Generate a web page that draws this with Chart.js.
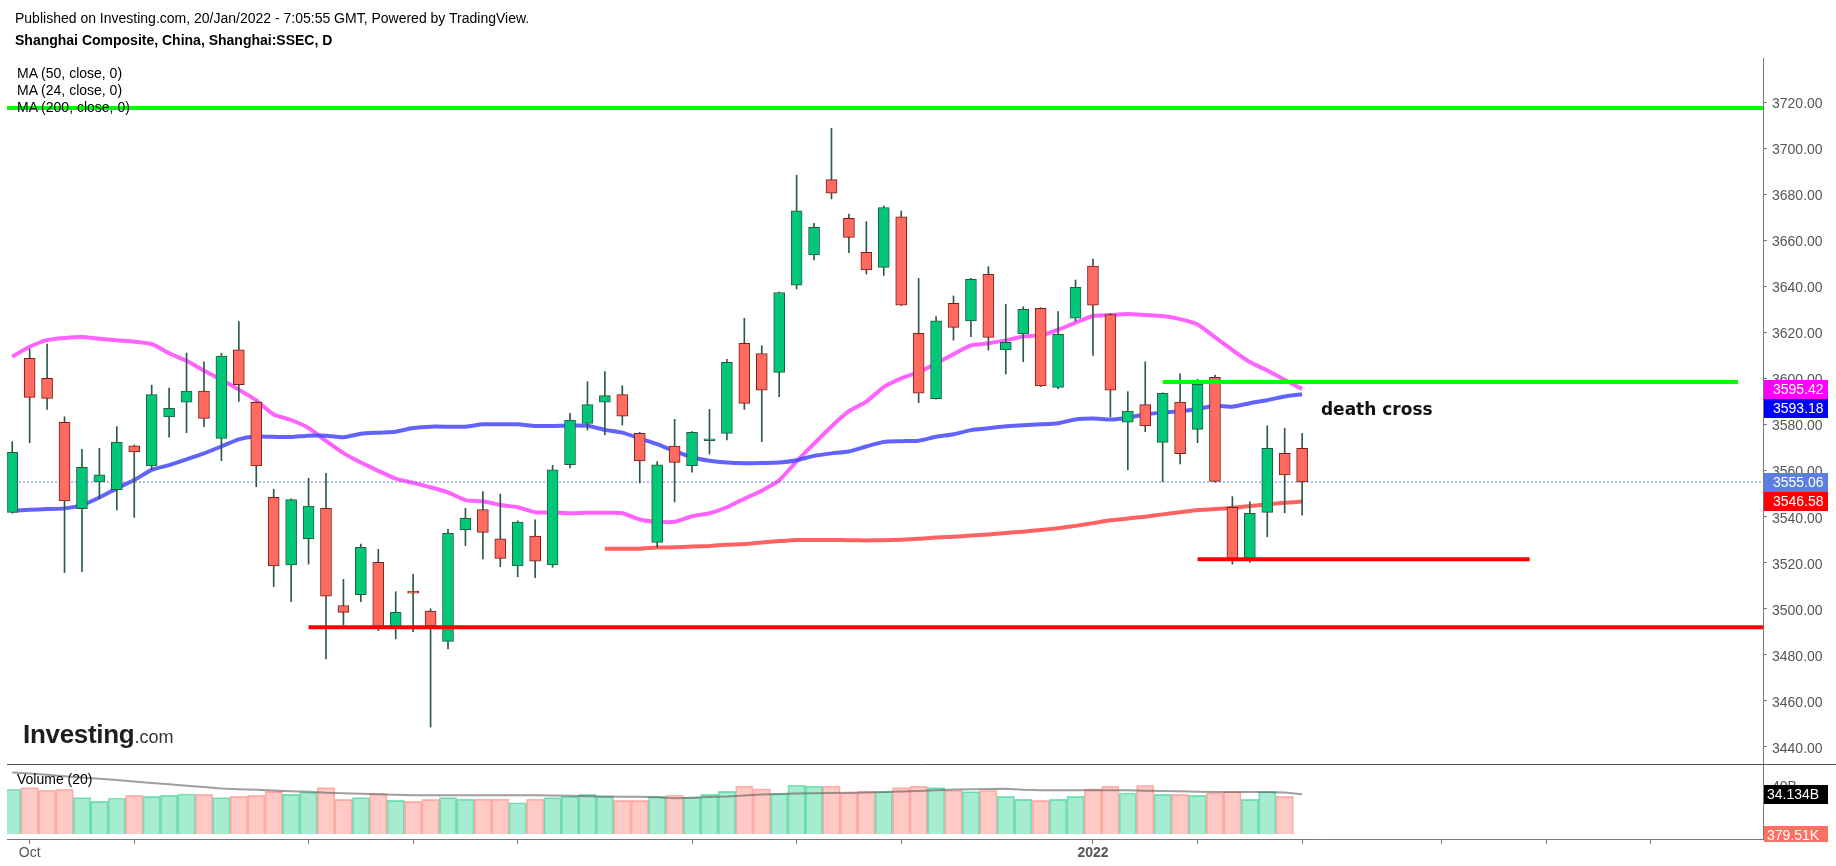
<!DOCTYPE html>
<html><head><meta charset="utf-8">
<script src="https://cdn.jsdelivr.net/npm/chart.js@4.4.1/dist/chart.umd.min.js"></script>
<style>
html,body{margin:0;padding:0;background:#fff;}
#wrap{position:relative;width:1836px;height:866px;overflow:hidden;font-family:'Liberation Sans',Arial,sans-serif;}
canvas{position:absolute;left:0;top:0;}
.t{position:absolute;white-space:nowrap;color:#000;font-size:14px;line-height:16px;}
</style></head><body>
<div id="wrap">
<canvas id="c" width="1836" height="866"></canvas>
<div class="t" style="left:15px;top:10px;">Published on Investing.com, 20/Jan/2022 - 7:05:55 GMT, Powered by TradingView.</div>
<div class="t" style="left:15px;top:32px;font-weight:bold;">Shanghai Composite, China, Shanghai:SSEC, D</div>
<div class="t" style="left:17px;top:65px;">MA (50, close, 0)</div>
<div class="t" style="left:17px;top:82px;">MA (24, close, 0)</div>
<div class="t" style="left:17px;top:99px;">MA (200, close, 0)</div>
<div class="t" style="left:17px;top:771px;">Volume (20)</div>
<div class="t" style="left:23px;top:719px;line-height:30px;"><span style="font-size:26px;font-weight:bold;color:#1e1e1e;letter-spacing:-0.3px">Investing</span><span style="font-size:18px;color:#333">.com</span></div>
</div>
<script>
const dates = ['2021-09-30',
'2021-10-08','2021-10-11','2021-10-12','2021-10-13','2021-10-14','2021-10-15','2021-10-18','2021-10-19','2021-10-20','2021-10-21','2021-10-22','2021-10-25','2021-10-26','2021-10-27','2021-10-28','2021-10-29',
'2021-11-01','2021-11-02','2021-11-03','2021-11-04','2021-11-05','2021-11-08','2021-11-09','2021-11-10','2021-11-11','2021-11-12','2021-11-15','2021-11-16','2021-11-17','2021-11-18','2021-11-19','2021-11-22','2021-11-23','2021-11-24','2021-11-25','2021-11-26','2021-11-29','2021-11-30',
'2021-12-01','2021-12-02','2021-12-03','2021-12-06','2021-12-07','2021-12-08','2021-12-09','2021-12-10','2021-12-13','2021-12-14','2021-12-15','2021-12-16','2021-12-17','2021-12-20','2021-12-21','2021-12-22','2021-12-23','2021-12-24','2021-12-27','2021-12-28','2021-12-29','2021-12-30','2021-12-31',
'2022-01-04','2022-01-05','2022-01-06','2022-01-07','2022-01-10','2022-01-11','2022-01-12','2022-01-13','2022-01-14','2022-01-17','2022-01-18','2022-01-19','2022-01-20'];

const open = [3541.9,3608.8,3600.1,3581.0,3543.5,3555.1,3551.7,3570.8,3562.0,3583.3,
3589.7,3594.6,3574.0,3612.5,3589.7,3548.4,3519.0,3530.4,3543.6,3501.4,
3506.1,3520.2,3492.2,3507.3,3499.0,3485.8,3534.4,3543.1,3530.4,3518.6,
3531.6,3519.0,3562.6,3580.5,3589.7,3593.0,3576.2,3528.8,3570.7,3562.2,
3573.0,3576.2,3615.3,3610.9,3602.7,3640.6,3653.7,3686.4,3669.6,3654.8,
3648.3,3670.3,3619.6,3591.3,3632.7,3625.0,3645.3,3612.4,3619.4,3630.5,
3596.2,3626.2,3648.9,3627.8,3581.0,3588.7,3572.3,3589.8,3577.9,3600.5,
3544.1,3521.8,3541.9,3567.5,3569.7];
const high = [3572.6,3612.8,3615.0,3583.4,3569.2,3569.7,3579.1,3571.2,3597.1,3595.9,
3611.1,3607.3,3611.0,3624.7,3590.0,3551.9,3547.8,3556.7,3558.8,3512.8,
3528.1,3525.8,3507.4,3515.0,3500.0,3534.5,3543.6,3550.9,3549.8,3538.2,
3538.6,3562.3,3584.9,3598.6,3603.0,3596.9,3576.6,3563.9,3582.3,3577.0,
3586.6,3608.3,3626.2,3614.3,3637.6,3688.3,3667.4,3708.7,3671.5,3668.2,
3675.0,3672.8,3643.5,3626.9,3635.9,3643.5,3648.6,3632.2,3631.2,3630.8,
3629.1,3642.8,3651.9,3628.2,3594.3,3607.3,3593.8,3602.0,3599.7,3601.5,
3548.7,3546.5,3579.5,3578.4,3576.2];
const low = [3541.5,3572.1,3586.6,3515.7,3516.1,3547.8,3542.9,3539.7,3560.6,3574.5,
3576.5,3579.1,3564.3,3590.1,3553.0,3509.6,3503.1,3519.4,3478.2,3493.0,
3503.1,3490.5,3486.9,3490.0,3448.6,3482.5,3527.4,3521.6,3518.3,3513.9,
3513.5,3518.0,3561.2,3577.6,3575.5,3579.8,3554.6,3526.7,3546.4,3559.3,
3567.2,3573.3,3586.6,3572.6,3592.1,3638.9,3651.5,3678.0,3654.7,3645.4,
3644.8,3631.7,3589.5,3591.0,3616.7,3618.2,3612.4,3602.0,3607.3,3596.5,
3595.5,3625.0,3610.1,3583.4,3560.3,3576.9,3555.2,3562.9,3572.1,3555.0,
3519.4,3520.2,3531.3,3541.7,3540.6];
const close = [3568.0,3591.8,3591.4,3546.8,3561.4,3558.2,3572.3,3568.1,3593.0,3587.1,
3594.6,3582.7,3609.8,3597.3,3562.0,3518.6,3547.4,3544.6,3505.5,3498.4,
3526.7,3491.5,3498.4,3506.8,3492.5,3532.8,3539.3,3533.2,3521.9,3537.7,
3520.7,3560.4,3582.0,3588.7,3592.6,3583.7,3564.2,3562.5,3563.6,3576.6,
3573.6,3607.0,3589.2,3595.0,3637.4,3672.9,3665.7,3680.5,3661.3,3647.2,
3674.3,3631.9,3593.6,3625.1,3622.2,3643.1,3617.9,3615.7,3630.1,3596.8,
3619.2,3639.6,3631.9,3595.0,3585.9,3579.4,3593.6,3567.4,3597.5,3555.3,
3521.2,3541.4,3569.7,3558.1,3555.06];

// volume in billions
const volume = [38.4,39.8,37.5,38.4,31.2,28.0,30.9,33.2,32.3,33.2,
34.3,34.0,31.2,32.3,33.2,36.6,34.0,35.8,39.8,29.7,
31.2,34.6,28.9,28.0,29.7,31.2,30.0,30.0,30.0,26.8,
30.0,31.2,32.3,34.0,32.3,28.9,28.9,32.3,33.5,31.7,
34.0,36.6,41.0,38.7,34.6,41.8,41.0,41.0,35.5,36.6,
36.4,39.8,41.0,39.8,37.5,36.4,37.5,32.3,29.7,28.9,
29.7,32.3,38.7,41.0,35.2,41.8,34.0,34.0,33.2,35.2,
36.4,29.7,36.4,32.3,0.00037951];
const volMa20 = [52.8,51.8,50.8,49.5,48.5,47.4,46.2,45.0,43.8,42.6,
41.4,40.3,39.0,38.4,38.0,37.3,36.6,36.2,35.4,35.0,
34.6,34.2,33.6,33.2,33.2,33.2,33.2,33.2,33.2,33.2,
33.2,33.0,32.8,32.5,32.1,32.0,32.0,31.5,30.6,31.2,
31.8,32.2,33.0,33.8,34.4,34.8,34.9,35.1,35.3,35.5,
36.0,36.4,36.8,37.5,38.1,38.4,38.7,38.9,38.0,37.5,
37.5,37.5,37.5,37.5,37.5,37.2,36.9,36.6,36.3,36.1,
36.1,36.1,36.1,35.5,34.134];

const ma50 = [3542.6,3543.0,3543.3,3543.6,3545.0,3548.3,3552.3,3555.9,3560.3,3562.4,
3564.9,3567.5,3570.5,3573.6,3574.8,3574.7,3574.6,3575.2,3575.2,3574.5,
3576.0,3576.5,3576.9,3578.5,3579.1,3579.1,3579.1,3580.1,3580.1,3580.1,
3579.4,3579.4,3579.6,3579.5,3577.7,3576.5,3574.0,3571.5,3568.5,3565.8,
3564.3,3563.5,3563.2,3563.3,3563.5,3564.5,3566.4,3567.5,3568.3,3570.5,
3572.5,3572.8,3573.0,3574.7,3575.8,3577.6,3578.4,3579.3,3579.7,3580.1,
3580.6,3582.2,3582.6,3582.2,3583.0,3584.4,3585.2,3585.8,3586.8,3588.2,
3587.8,3589.3,3590.6,3592.2,3593.18];
const ma24 = [3609.5,3613.8,3616.7,3617.6,3618.0,3617.3,3616.6,3616.0,3615.0,3611.0,
3607.7,3603.5,3599.5,3595.2,3590.5,3584.4,3582.0,3578.5,3572.9,3567.6,
3563.5,3559.9,3556.5,3554.7,3552.8,3550.6,3547.2,3546.7,3545.1,3544.1,
3541.9,3541.9,3541.5,3541.7,3541.7,3541.5,3538.8,3537.8,3537.8,3540.2,
3541.5,3544.1,3547.8,3551.3,3555.8,3564.0,3571.7,3579.2,3585.8,3590.0,
3596.3,3600.1,3602.8,3606.5,3610.6,3614.4,3615.3,3616.6,3618.3,3618.8,
3621.2,3624.3,3627.2,3627.6,3628.0,3627.6,3627.2,3625.8,3623.5,3618.0,
3612.4,3607.2,3603.5,3599.5,3595.42];
const ma200 = [null,null,null,null,null,null,null,null,null,null,
null,null,null,null,null,null,null,null,null,null,
null,null,null,null,null,null,null,null,null,null,
null,null,null,null,3526.1,3526.1,3526.1,3526.6,3526.7,3527.0,
3527.3,3527.8,3528.1,3528.8,3529.4,3529.9,3529.9,3529.9,3529.8,3529.7,
3529.8,3530.0,3530.4,3531.0,3531.3,3531.8,3532.3,3532.9,3533.5,3534.2,
3535.0,3536.0,3537.2,3538.4,3539.2,3540.0,3541.0,3541.9,3542.9,3543.3,
3543.9,3544.6,3545.4,3546.0,3546.58];

// drawn horizontal levels (price, from index, to index)
const levelPrice = [3717.5, 3598.5, 3521.5, 3492.0];
const levelFrom  = [-0.30, 66.0, 68.0, 17.0];
const levelTo    = [100.44, 99.0, 87.05, 100.44];
const levelKind  = ['up','up','down','down'];

// x-axis ticks (trading-day index) and labels
const tickIdx  = [1, 7, 17, 23, 29, 39, 45, 51, 62, 68, 74, 82, 88, 94];
const tickText = ['Oct','','','','','','','','2022','','','','',''];
const priceTicks = [3440,3460,3480,3500,3520,3540,3560,3580,3600,3620,3640,3660,3680,3700,3720];
const volTicks = [40];

const noteText = 'death cross';
const noteAt = [75.08, 3586.0];

const idx = dates.map((d,i)=>i);
const up = idx.map(i => close[i] >= open[i]);
const last = a => a[a.length-1];

const X_MIN = -0.30, X_MAX = 100.44;

const datasets = [];
datasets.push({type:'bar', yAxisID:'yv', grouped:false, order:20,
  data: idx.map(i=>({x:i, y:volume[i]})),
  backgroundColor: idx.map(i=> up[i] ? 'rgba(0,200,120,0.35)' : 'rgba(255,100,92,0.35)'),
  borderColor: idx.map(i=> up[i] ? 'rgba(40,200,140,0.55)' : 'rgba(255,120,110,0.5)'),
  borderWidth: 1, borderSkipped:'start', barPercentage:1, categoryPercentage:1});
datasets.push({type:'line', yAxisID:'yv', order:19, data: idx.map(i=>({x:i,y:volMa20[i]})),
  borderColor:'rgba(95,95,95,0.6)', borderWidth:2, pointRadius:0, tension:0});
datasets.push({type:'line', yAxisID:'y', order:15, data: idx.map(i=>({x:i,y:ma50[i]})),
  borderColor:'rgba(70,70,255,0.85)', borderWidth:4, pointRadius:0, tension:0.2});
datasets.push({type:'line', yAxisID:'y', order:15, data: idx.map(i=>({x:i,y:ma24[i]})),
  borderColor:'rgba(255,70,255,0.85)', borderWidth:4, pointRadius:0, tension:0.2});
datasets.push({type:'line', yAxisID:'y', order:15, data: idx.filter(i=>ma200[i]!==null).map(i=>({x:i,y:ma200[i]})),
  borderColor:'rgba(255,70,70,0.85)', borderWidth:4, pointRadius:0, tension:0.2});
datasets.push({type:'line', yAxisID:'y', order:14, data:[{x:X_MIN,y:last(close)},{x:X_MAX,y:last(close)}],
  borderColor:'rgba(70,110,230,0.9)', borderWidth:1, borderDash:[2,2], pointRadius:0});
datasets.push({type:'bar', yAxisID:'y', grouped:false, order:10,
  data: idx.map(i=>({x:i, y:[low[i], high[i]]})),
  backgroundColor:'#2c5a45', borderWidth:0, barThickness:1});
datasets.push({type:'bar', yAxisID:'y', grouped:false, order:9,
  data: idx.map(i=>({x:i, y:[open[i], close[i]]})),
  backgroundColor: idx.map(i=> up[i] ? '#00c878' : '#ff6b61'),
  borderColor: idx.map(i=> up[i] ? '#235c42' : '#7a1e1a'),
  borderWidth:1, borderSkipped:false, barThickness:11, minBarLength:2});
levelPrice.forEach((p,k)=>{
  datasets.push({type:'line', yAxisID:'y', order:5,
    data:[{x:levelFrom[k],y:p},{x:levelTo[k],y:p}],
    borderColor: levelKind[k]==='up' ? '#00ff00' : '#ff0000', borderWidth:4, pointRadius:0, borderCapStyle:'butt'});
});

const FONT = "'Liberation Sans', Arial, sans-serif";
Chart.defaults.font.family = FONT;

const overlay = {
  id:'overlay',
  afterDatasetsDraw(chart){
    const ctx = chart.ctx, xs = chart.scales.x, ys = chart.scales.y;
    ctx.save();
    ctx.font = "bold 17px 'DejaVu Sans', sans-serif";
    ctx.fillStyle = '#111';
    ctx.textBaseline = 'middle';
    ctx.textAlign = 'left';
    ctx.fillText(noteText, xs.getPixelForValue(noteAt[0]), ys.getPixelForValue(noteAt[1]));
    ctx.restore();
  },
  afterDraw(chart){
    const ctx = chart.ctx, ys = chart.scales.y, yv = chart.scales.yv;
    ctx.save();
    const sy = Math.round(ys.bottom) + 0.5;
    ctx.strokeStyle = '#555'; ctx.lineWidth = 1;
    ctx.beginPath(); ctx.moveTo(chart.chartArea.left, sy); ctx.lineTo(chart.width, sy); ctx.stroke();
    const bx = Math.round(ys.left) + 1, bw = 64, bh = 19;
    const tags = [
      {y: ys.getPixelForValue(last(ma24)), bg:'#ff00ff', t:last(ma24).toFixed(2)},
      {y: ys.getPixelForValue(last(ma50)), bg:'#0000ff', t:last(ma50).toFixed(2)},
      {y: ys.getPixelForValue(last(close)), bg:'#5a7fe0', t:last(close).toFixed(2)},
      {y: ys.getPixelForValue(last(ma200)), bg:'#ff0000', t:last(ma200).toFixed(2)}
    ].sort((a,b)=>a.y-b.y);
    for (let k=1;k<tags.length;k++) if (tags[k].y < tags[k-1].y + bh) tags[k].y = tags[k-1].y + bh;
    ctx.font = "14px " + FONT;
    ctx.textBaseline = 'middle'; ctx.textAlign = 'left';
    tags.forEach(tg=>{
      ctx.fillStyle = tg.bg; ctx.fillRect(bx, Math.round(tg.y - bh/2), bw, bh);
      ctx.fillStyle = '#fff'; ctx.fillText(tg.t, bx + 9, tg.y + 1);
    });
    ctx.save();
    ctx.beginPath(); ctx.rect(bx, yv.top, bw, yv.bottom - yv.top + 3); ctx.clip();
    const vt = [
      {y: yv.getPixelForValue(last(volMa20)), bg:'#000', t: last(volMa20).toFixed(3) + 'B'},
      {y: yv.getPixelForValue(last(volume)) + 1, bg:'#ff6f63', t: (last(volume)*1e6).toFixed(2) + 'K'}
    ];
    vt.forEach(tg=>{
      ctx.fillStyle = tg.bg; ctx.fillRect(bx, Math.round(tg.y - bh/2), bw, bh);
      ctx.fillStyle = '#fff'; ctx.fillText(tg.t, bx + 3, tg.y + 1);
    });
    ctx.restore();
    ctx.restore();
  }
};

new Chart(document.getElementById('c'), {
  data: { datasets },
  options: {
    responsive:false, animation:false, devicePixelRatio:1,
    layout:{padding:{left:7, top:58, right:0, bottom:0}},
    plugins:{legend:{display:false}, tooltip:{enabled:false}},
    scales:{
      x:{type:'linear', position:'bottom', min:X_MIN, max:X_MAX, offset:false,
        afterBuildTicks(s){ s.ticks = tickIdx.map(v=>({value:v})); },
        afterFit(s){ s.height = 27; },
        grid:{display:true, offset:false, drawOnChartArea:false, drawTicks:true, tickLength:5, color:'#787878'},
        border:{display:true, color:'#787878'},
        ticks:{autoSkip:false, maxRotation:0, padding:1, color:'#555',
          callback:(v)=>{ const k = tickIdx.indexOf(v); return k>=0 ? tickText[k] : ''; },
          font:(c)=>{ const k = c.tick ? tickIdx.indexOf(c.tick.value) : -1; const bold = k>=0 && /^\d{4}$/.test(tickText[k]); return {family:FONT, size:14, weight: bold ? 'bold':'normal'}; }
        }
      },
      y:{type:'linear', position:'right', stack:'panes', stackWeight:706, min:3432.56, max:3739.25,
        afterBuildTicks(s){ s.ticks = priceTicks.map(v=>({value:v})); },
        afterFit(s){ s.width = 73; },
        grid:{display:true, drawOnChartArea:false, drawTicks:true, tickLength:4, color:'#787878'},
        border:{display:true, color:'#787878'},
        ticks:{padding:5, labelOffset:2, color:'#555', font:{size:14, family:FONT}, callback:(v)=>Number(v).toFixed(2)}
      },
      yv:{type:'linear', position:'right', stack:'panes', stackWeight:75, min:-4.2, max:60,
        afterBuildTicks(s){ s.ticks = volTicks.map(v=>({value:v})); },
        afterFit(s){ s.width = 73; },
        grid:{display:true, drawOnChartArea:false, drawTicks:true, tickLength:4, color:'#787878'},
        border:{display:true, color:'#787878'},
        ticks:{padding:5, color:'#555', font:{size:14, family:FONT}, callback:(v)=>v + 'B'}
      }
    }
  },
  plugins:[overlay]
});
</script>
</body></html>
